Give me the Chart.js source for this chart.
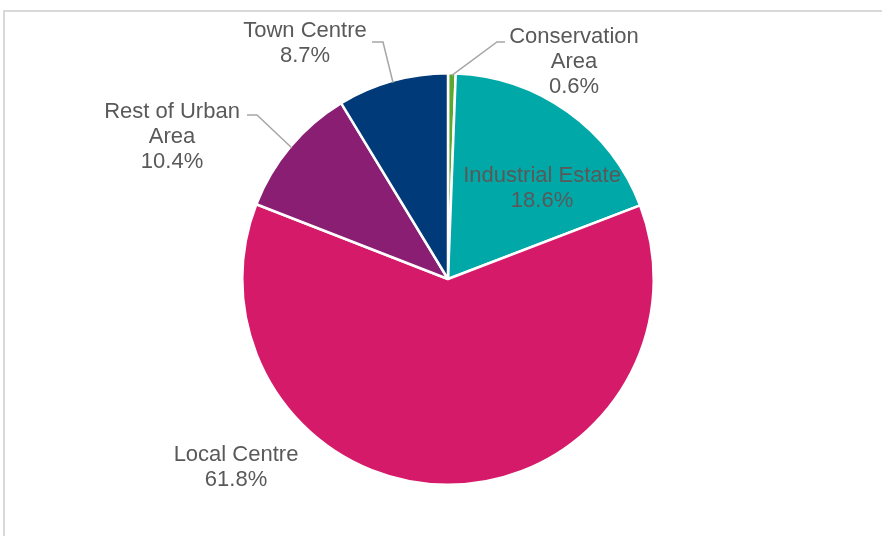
<!DOCTYPE html>
<html>
<head>
    <title>Share by Area Type</title>
    <script src="https://cdn.jsdelivr.net/npm/chart.js"></script>
    <style>
        body {margin: 0; background: #fff;}
        #frame {position: absolute; left: 3px; top: 10px; width: 900px; height: 560px;
                border-left: 2px solid #d9d9d9; border-top: 2px solid #d9d9d9;}
        #chartContainer {position: absolute; left: 0; top: 0; width: 882px; height: 536px;}
    </style>
</head>
<body>
    <div id="frame"></div>
    <div id="chartContainer">
        <canvas id="myChart"></canvas>
    </div>
    <script>
        // slices run clockwise from 12 o'clock
        var labels = ['Conservation Area', 'Industrial Estate', 'Local Centre', 'Rest of Urban Area', 'Town Centre'];
        var shares = [0.6, 18.6, 61.8, 10.4, 8.7];
        var colors = [
            '#5aa82e',   // green
            '#00a8a8',   // teal
            '#d51a69',   // crimson
            '#8a1e73',   // purple
            '#003a78'    // navy
        ];
        // how each label's text is split over lines
        var labelLines = [
            ['Conservation', 'Area'],
            ['Industrial Estate'],
            ['Local Centre'],
            ['Rest of Urban', 'Area'],
            ['Town Centre']
        ];

        // text centre of first line, plus leader line (text end -> elbow -> arc)
        var labelLayout = [
            {x: 574, y: 37, leader: [[505, 42], [497, 42]]},
            {x: 542, y: 176},
            {x: 236, y: 455},
            {x: 172, y: 112, leader: [[247, 115], [257, 115]]},
            {x: 305, y: 31, leader: [[372, 42], [383, 42]]}
        ];

        var pieLabels = {
            id: 'pieLabels',
            afterDraw: function(chart) {
                var ctx = chart.ctx;
                var meta = chart.getDatasetMeta(0);
                ctx.save();
                ctx.font = '22px "Liberation Sans", Arial, sans-serif';
                ctx.fillStyle = '#595959';
                ctx.textAlign = 'center';
                ctx.textBaseline = 'middle';
                meta.data.forEach(function(arc, i) {
                    var lay = labelLayout[i];
                    var lines = labelLines[i].concat([shares[i].toFixed(1) + '%']);
                    lines.forEach(function(t, j) {
                        ctx.fillText(t, lay.x, lay.y + j * 25);
                    });
                    if (lay.leader) {
                        var mid = (arc.startAngle + arc.endAngle) / 2;
                        var ex = arc.x + Math.cos(mid) * (arc.outerRadius - 2);
                        var ey = arc.y + Math.sin(mid) * (arc.outerRadius - 2);
                        ctx.strokeStyle = '#a6a6a6';
                        ctx.lineWidth = 1.5;
                        ctx.beginPath();
                        ctx.moveTo(lay.leader[0][0], lay.leader[0][1]);
                        ctx.lineTo(lay.leader[1][0], lay.leader[1][1]);
                        ctx.lineTo(ex, ey);
                        ctx.stroke();
                    }
                });
                ctx.restore();
            }
        };

        var ctx = document.getElementById('myChart').getContext('2d');
        new Chart(ctx, {
            type: 'pie',
            data: {
                labels: labels,
                datasets: [{
                    data: shares,
                    backgroundColor: colors,
                    borderColor: '#ffffff',
                    borderWidth: 2.5
                }]
            },
            options: {
                responsive: true,
                maintainAspectRatio: false,
                animation: false,
                layout: {padding: {top: 72, bottom: 50, left: 241, right: 227}},
                plugins: {
                    legend: {display: false},
                    tooltip: {enabled: false}
                }
            },
            plugins: [pieLabels]
        });
    </script>
</body>
</html>
